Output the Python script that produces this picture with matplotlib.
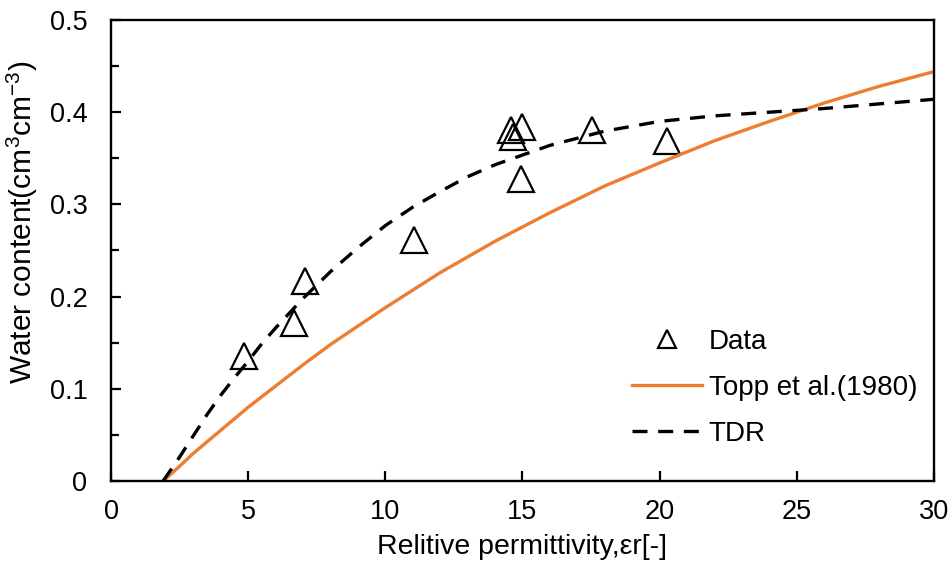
import matplotlib.pyplot as plt

plt.rcParams['font.family'] = ['Liberation Sans', 'DejaVu Sans']
plt.rcParams['mathtext.fontset'] = 'custom'
plt.rcParams['mathtext.rm'] = 'Liberation Sans'
plt.rcParams['mathtext.it'] = 'Liberation Sans'

# measured points
data_x = [4.85, 6.67, 7.07, 11.05, 14.6, 15.0, 14.66, 14.94, 17.52, 20.27]
data_y = [0.136, 0.171, 0.217, 0.261, 0.381, 0.384, 0.373, 0.327, 0.381, 0.369]

# Topp et al. (1980) curve
topp_x = [1.9, 2.5, 3, 4, 5, 6, 7, 8, 9, 10, 12, 14, 16, 18, 20, 22, 24, 26, 28, 30]
topp_y = [0.0, 0.016, 0.030, 0.055, 0.080, 0.103, 0.126, 0.148, 0.168, 0.188,
          0.226, 0.260, 0.291, 0.320, 0.345, 0.369, 0.390, 0.410, 0.428, 0.444]

# TDR curve
tdr_x = [1.9, 2.5, 3, 3.5, 4, 4.5, 5, 5.5, 6, 7, 8, 9, 10, 11, 12, 13, 14, 16,
         18, 20, 22, 24, 26, 28, 30]
tdr_y = [0.0, 0.026, 0.049, 0.072, 0.093, 0.112, 0.130, 0.149, 0.166, 0.198,
         0.227, 0.253, 0.277, 0.297, 0.314, 0.330, 0.343, 0.364, 0.3795, 0.390,
         0.396, 0.400, 0.404, 0.409, 0.414]

fig = plt.figure(figsize=(9.52, 5.71), dpi=100)
ax = fig.add_axes([0.1166, 0.1576, 0.8644, 0.8074])

ax.plot(data_x, data_y, linestyle='none', marker='^', markersize=19,
        markerfacecolor='none', markeredgecolor='black', markeredgewidth=1.6,
        label='Data')
ax.plot(topp_x, topp_y, color='#ED7D31', linewidth=2.4, label='Topp et al.(1980)')
ax.plot(tdr_x, tdr_y, color='black', linewidth=2.4, dashes=(4.5, 3.2), label='TDR')

ax.set_xlim(0, 30)
ax.set_ylim(0, 0.5)
ax.set_xticks([0, 5, 10, 15, 20, 25, 30])
ax.set_xticklabels(['0', '5', '10', '15', '20', '25', '30'])
ax.set_yticks([0, 0.1, 0.2, 0.3, 0.4, 0.5])
ax.set_yticklabels(['0', '0.1', '0.2', '0.3', '0.4', '0.5'])
ax.set_yticks([0.05, 0.15, 0.25, 0.35, 0.45], minor=True)
ax.tick_params(which='both', direction='in', width=1.6, labelsize=19.5)
ax.tick_params(axis='y', pad=17)
ax.tick_params(axis='x', pad=13)
ax.tick_params(which='major', length=7)
ax.tick_params(which='minor', length=6)
for s in ax.spines.values():
    s.set_linewidth(1.7)

ax.set_xlabel('Relitive permittivity,εr[-]', fontsize=20.5)
ax.set_ylabel('Water content(cm$^3$cm$^{-3}$)', fontsize=21.5)
ax.xaxis.set_label_coords(0.499, -0.115)
ax.yaxis.set_label_coords(-0.086, 0.561)

ax.legend(loc='lower left', bbox_to_anchor=(0.6335, 0.074), frameon=False,
          fontsize=20, markerscale=0.65, handlelength=2.5, handletextpad=0.25,
          labelspacing=0.72, borderpad=0, borderaxespad=0)

plt.savefig('out.png', dpi=100)
